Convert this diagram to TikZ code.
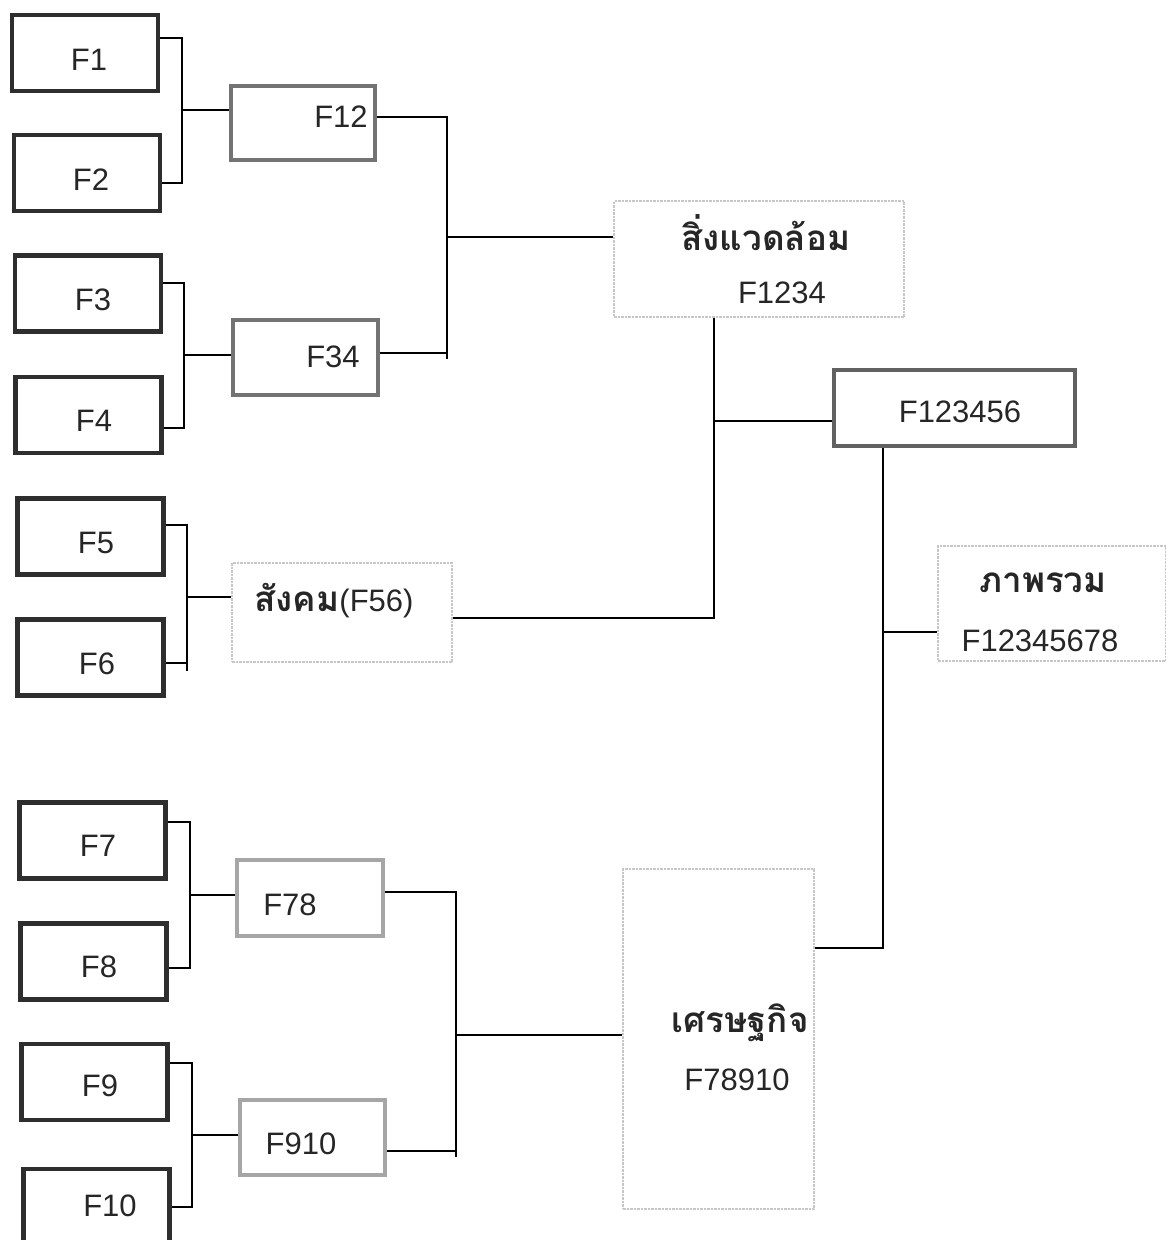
\documentclass[tikz,border=0pt]{standalone}
\usepackage{fontspec}
\setmainfont{Liberation Sans}
\newfontfamily\thaifont[Script=Thai]{Loma}
\begin{document}
\begin{tikzpicture}[x=1pt,y=-1pt,
  fbox/.style={draw=black!82,line width=4.5pt,minimum width=146pt,minimum height=76pt,inner sep=0pt},
  gbox/.style={draw=black!55,line width=4.5pt,inner sep=0pt},
  lgbox/.style={draw=black!35,line width=4pt,inner sep=0pt},
  dbox/.style={draw=black!22,densely dotted,line width=2.5pt,inner sep=0pt},
  conn/.style={draw=black,line width=1.6pt},
  lbl/.style={inner sep=0pt,font=\fontsize{31}{36}\selectfont,text=black!85},
  tlbl/.style={inner sep=0pt,font=\thaifont\bfseries\fontsize{35}{40}\selectfont,text=black!85}]
\useasboundingbox (0,0) rectangle (1166,1240);
\clip (0,0) rectangle (1166,1240);
\fill[white] (0,0) rectangle (1166,1240);
% first-level boxes
\node[fbox] (f1) at (85,53) {};
\node[fbox] (f2) at (87,173) {};
\node[fbox] (f3) at (88,293.5) {};
\node[fbox] (f4) at (88.5,415) {};
\node[fbox] (f5) at (90.5,536.5) {};
\node[fbox] (f6) at (90.5,657.5) {};
\node[fbox] (f7) at (92.5,840.5) {};
\node[fbox] (f8) at (93.5,961.5) {};
\node[fbox] (f9) at (94.5,1082) {};
\node[fbox] (f10) at (96.5,1207) {};
\node[lbl] (t1) at (89,60) {F1};
\node[lbl] (t2) at (91,180) {F2};
\node[lbl] (t3) at (93,300) {F3};
\node[lbl] (t4) at (94,421) {F4};
\node[lbl] (t5) at (96,543) {F5};
\node[lbl] (t6) at (97,664) {F6};
\node[lbl] (t7) at (98,846) {F7};
\node[lbl] (t8) at (99,967) {F8};
\node[lbl] (t9) at (100,1086) {F9};
\node[lbl] (t10) at (110,1206) {F10};
% second-level boxes
\node[gbox,minimum width=144pt,minimum height=74pt] (f12) at (303,123) {};
\node[gbox,minimum width=145pt,minimum height=75pt] (f34) at (305.5,357.5) {};
\node[lgbox,minimum width=146pt,minimum height=76pt] (f78) at (310,898) {};
\node[lgbox,minimum width=145pt,minimum height=75pt] (f910) at (312.5,1137.5) {};
\node[lbl] (t12) at (341,117) {F12};
\node[lbl] (t34) at (333,357) {F34};
\node[lbl] (t78) at (290,905) {F78};
\node[lbl] (t910) at (301,1144) {F910};
% grouped boxes
\node[dbox,minimum width=290pt,minimum height=116pt] (env) at (759,259) {};
\node[tlbl] (tenv) at (766,233) {สิ่งแวดล้อม};
\node[lbl] (tenv2) at (782,293) {F1234};
\node[dbox,minimum width=220pt,minimum height=99pt] (soc) at (342,612.5) {};
\node[lbl] (tsoc) at (334,601) {{\thaifont\bfseries\fontsize{35}{40}\selectfont สังคม}(F56)};
\node[gbox,draw=black!62,minimum width=241pt,minimum height=76pt] (f123456) at (954.5,408) {};
\node[lbl] (t123456) at (960,412) {F123456};
\node[dbox,minimum width=228pt,minimum height=115pt] (all) at (1052,603.5) {};
\node[tlbl] (tall) at (1043,583) {ภาพรวม};
\node[lbl] (tall2) at (1040,641) {F12345678};
\node[dbox,minimum width=191pt,minimum height=340pt] (econ) at (718.5,1039) {};
\node[tlbl] (tecon) at (740,1023) {เศรษฐกิจ};
\node[lbl] (tecon2) at (737,1080) {F78910};
% connectors level 1
\draw[conn] (f1.east |- 0,38) -| (182,183) -- (f2.east |- 0,183);
\draw[conn] (182,110) -- (f12.west |- 0,110);
\draw[conn] (f3.east |- 0,283) -| (184,428) -- (f4.east |- 0,428);
\draw[conn] (184,355) -- (f34.west |- 0,355);
\draw[conn] (f5.east |- 0,525) -| (187,663) -- (f6.east |- 0,663);
\draw[conn] (187,663) -- (187,671);
\draw[conn] (187,597) -- (soc.west |- 0,597);
\draw[conn] (f7.east |- 0,822) -| (190,968) -- (f8.east |- 0,968);
\draw[conn] (190,895) -- (f78.west |- 0,895);
\draw[conn] (f9.east |- 0,1063) -| (192,1207) -- (f10.east |- 0,1207);
\draw[conn] (192,1135) -- (f910.west |- 0,1135);
% connectors level 2
\draw[conn] (f12.east |- 0,117) -| (447,353) -- (f34.east |- 0,353);
\draw[conn] (447,353) -- (447,359);
\draw[conn] (447,237) -- (env.west |- 0,237);
\draw[conn] (f78.east |- 0,892) -| (456,1151) -- (f910.east |- 0,1151);
\draw[conn] (456,1151) -- (456,1157);
\draw[conn] (456,1035) -- (econ.west |- 0,1035);
% connectors level 3
\draw[conn] (soc.east |- 0,618) -| (714,325) -- (714,318) -- (env.south -| 714,0);
\draw[conn] (714,421) -- (f123456.west |- 0,421);
\draw[conn] (f123456.south -| 883,0) -- (883,948) -- (econ.east |- 0,948);
\draw[conn] (883,632) -- (all.west |- 0,632);
\end{tikzpicture}
\end{document}
